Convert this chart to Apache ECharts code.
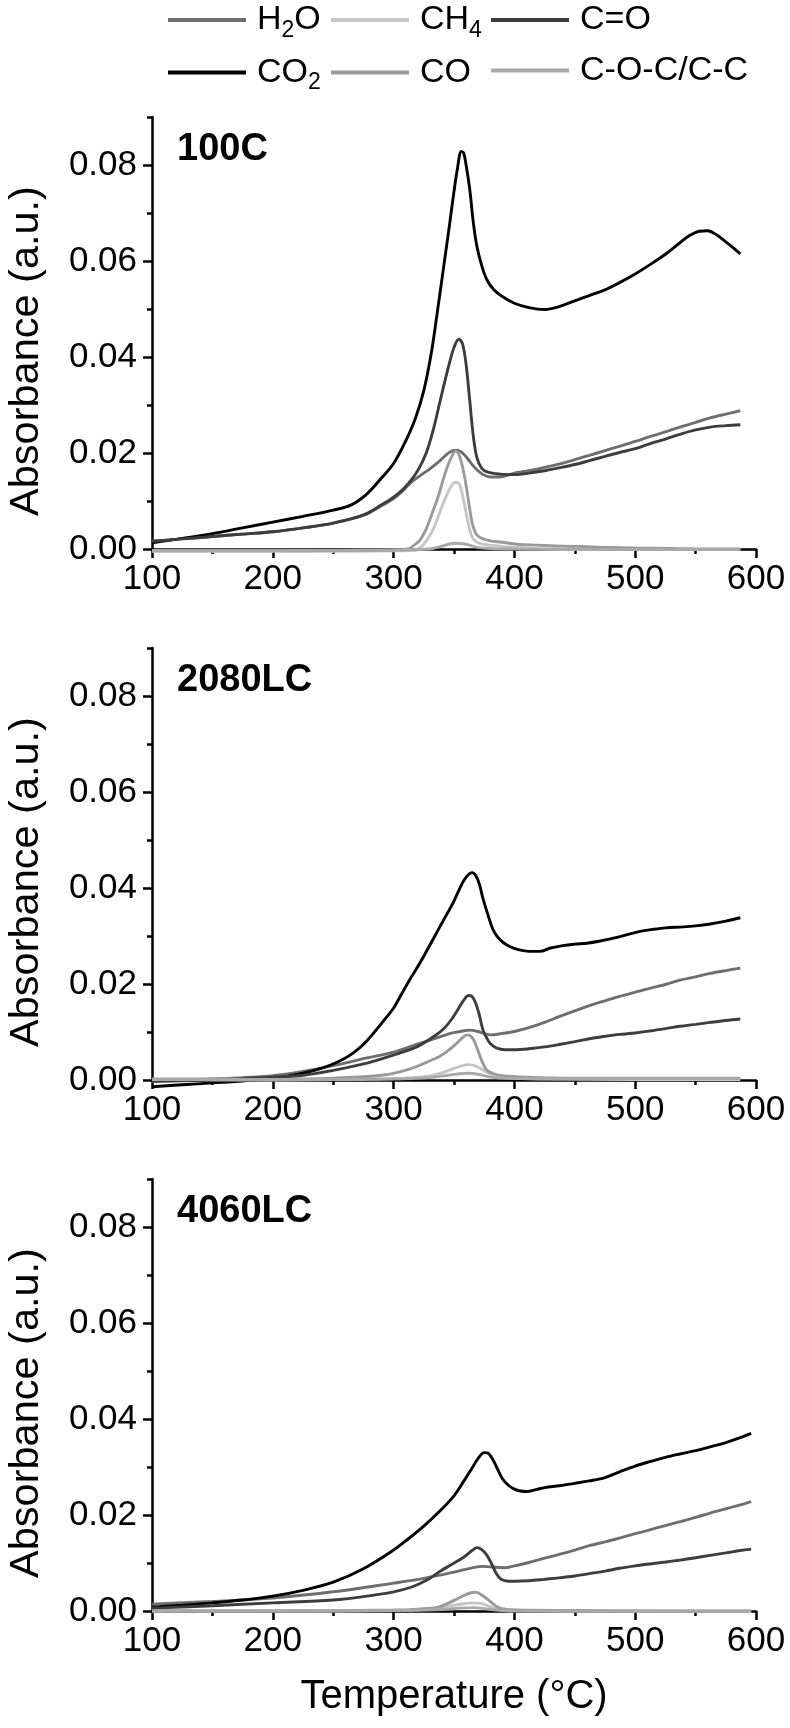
<!DOCTYPE html>
<html>
<head>
<meta charset="utf-8">
<script src="https://cdn.jsdelivr.net/npm/echarts@6/dist/echarts.min.js"></script>
<style>
html,body{margin:0;padding:0;background:#fff;}
#c{width:790px;height:1728px;}
</style>
</head>
<body>
<div id="c"></div>
<script>
const FONT = '"Liberation Sans", Arial, Helvetica, sans-serif';

// ---- categories / styling keys ----
const seriesNames = ['H2O', 'CO2', 'CH4', 'CO', 'C=O', 'C-O-C/C-C'];
const seriesColors = ['#6e6e6e', '#000000', '#c6c6c6', '#9a9a9a', '#3d3d3d', '#a9a9a9'];
const panelTitles = ['100C', '2080LC', '4060LC'];
const yMajorTicks = [0, 0.02, 0.04, 0.06, 0.08];

// ---- Panel 1: 100C  ([temperature °C, absorbance]) ----
const p1_H2O = [[100,0.0016],[125,0.0021],[150,0.0026],[175,0.0031],[200,0.0036],[225,0.0044],[250,0.0054],[275,0.0070],[290,0.0090],[300,0.0105],[308,0.0122],[315,0.0140],[322,0.0153],[330,0.0167],[338,0.0183],[344,0.0197],[349,0.0205],[353,0.0206],[357,0.0200],[361,0.0189],[365,0.0176],[369,0.0165],[374,0.0155],[380,0.0150],[388,0.0150],[400,0.0158],[412,0.0163],[425,0.0170],[437,0.0177],[450,0.0186],[462,0.0195],[475,0.0205],[487,0.0214],[500,0.0224],[512,0.0234],[525,0.0244],[537,0.0254],[550,0.0264],[562,0.0273],[575,0.0281],[587,0.0288]];
const p1_CO2 = [[100,0.0013],[125,0.0022],[150,0.0032],[175,0.0044],[200,0.0056],[225,0.0068],[250,0.0081],[265,0.0092],[278,0.0115],[290,0.0148],[300,0.0178],[310,0.0225],[318,0.0272],[325,0.0330],[331,0.0405],[336,0.0490],[341,0.0580],[346,0.0670],[350,0.0745],[353,0.0795],[356,0.0828],[358,0.0825],[360,0.0800],[363,0.0750],[366,0.0680],[369,0.0630],[373,0.0590],[377,0.0562],[383,0.0540],[390,0.0526],[400,0.0512],[412,0.0503],[425,0.0499],[437,0.0505],[450,0.0517],[462,0.0528],[475,0.0540],[487,0.0555],[500,0.0573],[512,0.0592],[525,0.0614],[537,0.0638],[545,0.0653],[553,0.0662],[560,0.0663],[567,0.0655],[575,0.0640],[581,0.0628],[587,0.0615]];
const p1_CH4 = [[100,-0.0005],[150,-0.0005],[200,-0.0005],[250,-0.0005],[300,-0.0004],[318,-0.0002],[323,0.0005],[328,0.0020],[333,0.0042],[337,0.0068],[341,0.0095],[345,0.0118],[348,0.0132],[351,0.0139],[353,0.0138],[355,0.0132],[357,0.0113],[359,0.0088],[361,0.0063],[363,0.0040],[365,0.0025],[368,0.0016],[372,0.0011],[380,0.0008],[392,0.0005],[410,0.0002],[430,0.0000],[480,-0.0001],[530,-0.0001],[587,-0.0001]];
const p1_CO = [[100,-0.0004],[150,-0.0004],[200,-0.0004],[250,-0.0003],[300,-0.0002],[312,0.0000],[318,0.0010],[322,0.0019],[327,0.0042],[332,0.0075],[337,0.0110],[341,0.0144],[345,0.0175],[348,0.0192],[351,0.0203],[353,0.0202],[356,0.0182],[358,0.0160],[360,0.0133],[362,0.0100],[364,0.0068],[366,0.0045],[369,0.0029],[374,0.0021],[380,0.0017],[390,0.0014],[402,0.0010],[420,0.0008],[440,0.0006],[460,0.0005],[480,0.0003],[500,0.0002],[530,0.0001],[560,0.0000],[587,0.0000]];
const p1_CdO = [[100,0.0016],[125,0.0021],[150,0.0026],[175,0.0031],[200,0.0036],[225,0.0044],[250,0.0054],[275,0.0071],[290,0.0092],[300,0.0108],[308,0.0125],[315,0.0145],[321,0.0168],[327,0.0200],[333,0.0250],[338,0.0303],[342,0.0345],[346,0.0385],[350,0.0420],[354,0.0437],[357,0.0428],[360,0.0385],[363,0.0310],[366,0.0235],[369,0.0190],[373,0.0168],[378,0.0160],[388,0.0156],[400,0.0155],[412,0.0158],[425,0.0163],[437,0.0169],[450,0.0176],[462,0.0184],[475,0.0193],[487,0.0201],[500,0.0209],[512,0.0219],[525,0.0229],[537,0.0239],[550,0.0248],[562,0.0254],[575,0.0257],[587,0.0259]];
const p1_COC = [[100,-0.0003],[200,-0.0003],[300,-0.0002],[330,0.0000],[340,0.0006],[347,0.0011],[352,0.0012],[358,0.0011],[364,0.0007],[370,0.0003],[380,0.0001],[400,0.0000],[450,-0.0001],[500,-0.0001],[587,-0.0001]];

// ---- Panel 2: 2080LC ----
const p2_H2O = [[100,-0.0003],[125,-0.0001],[150,0.0002],[175,0.0005],[200,0.0009],[225,0.0018],[250,0.0030],[278,0.0046],[300,0.0058],[319,0.0074],[335,0.0087],[347,0.0097],[355,0.0101],[363,0.0104],[370,0.0101],[376,0.0096],[381,0.0094],[390,0.0097],[400,0.0101],[412,0.0109],[425,0.0120],[437,0.0132],[450,0.0144],[462,0.0155],[475,0.0165],[487,0.0174],[500,0.0183],[512,0.0191],[525,0.0199],[537,0.0208],[550,0.0215],[562,0.0222],[575,0.0228],[587,0.0233]];
const p2_CO2 = [[100,-0.0014],[125,-0.0010],[150,-0.0006],[175,-0.0002],[200,0.0003],[225,0.0014],[240,0.0024],[255,0.0039],[267,0.0057],[278,0.0082],[290,0.0118],[300,0.0150],[305,0.0172],[312,0.0203],[318,0.0228],[325,0.0258],[332,0.0290],[338,0.0318],[344,0.0345],[349,0.0368],[354,0.0395],[358,0.0415],[362,0.0428],[365,0.0432],[368,0.0426],[371,0.0408],[374,0.0378],[378,0.0345],[382,0.0315],[386,0.0298],[391,0.0286],[397,0.0277],[404,0.0271],[412,0.0268],[421,0.0268],[430,0.0275],[440,0.0280],[450,0.0283],[460,0.0285],[470,0.0289],[483,0.0296],[495,0.0304],[505,0.0310],[515,0.0314],[525,0.0317],[540,0.0319],[550,0.0321],[562,0.0325],[575,0.0331],[587,0.0338]];
const p2_CH4 = [[100,0.0000],[200,0.0000],[300,0.0003],[325,0.0007],[340,0.0015],[350,0.0024],[357,0.0030],[362,0.0032],[367,0.0030],[372,0.0024],[377,0.0016],[385,0.0008],[395,0.0004],[420,0.0002],[500,0.0001],[587,0.0001]];
const p2_CO = [[100,0.0002],[150,0.0002],[200,0.0002],[250,0.0004],[290,0.0010],[305,0.0017],[319,0.0028],[330,0.0040],[338,0.0049],[346,0.0063],[352,0.0076],[357,0.0088],[361,0.0094],[364,0.0091],[367,0.0080],[370,0.0060],[373,0.0040],[377,0.0021],[383,0.0013],[390,0.0009],[410,0.0006],[450,0.0004],[500,0.0004],[550,0.0004],[587,0.0004]];
const p2_CdO = [[100,-0.0002],[150,0.0000],[200,0.0006],[225,0.0010],[250,0.0020],[278,0.0035],[305,0.0056],[320,0.0070],[333,0.0090],[342,0.0108],[349,0.0130],[354,0.0150],[358,0.0166],[362,0.0176],[365,0.0174],[368,0.0160],[371,0.0135],[374,0.0104],[377,0.0088],[380,0.0076],[385,0.0067],[392,0.0063],[400,0.0063],[412,0.0065],[425,0.0069],[437,0.0074],[450,0.0080],[462,0.0086],[475,0.0091],[487,0.0095],[500,0.0098],[512,0.0102],[525,0.0107],[537,0.0112],[550,0.0116],[562,0.0120],[575,0.0124],[587,0.0127]];
const p2_COC = [[100,0.0001],[200,0.0001],[300,0.0002],[330,0.0005],[345,0.0010],[355,0.0013],[362,0.0014],[370,0.0012],[378,0.0007],[388,0.0004],[420,0.0003],[500,0.0003],[587,0.0003]];

// ---- Panel 3: 4060LC ----
const p3_H2O = [[100,0.0014],[150,0.0020],[200,0.0027],[250,0.0040],[300,0.0058],[325,0.0068],[350,0.0081],[365,0.0090],[375,0.0093],[383,0.0091],[392,0.0090],[400,0.0094],[412,0.0101],[425,0.0110],[437,0.0118],[450,0.0127],[462,0.0136],[475,0.0144],[487,0.0152],[500,0.0161],[512,0.0169],[525,0.0178],[537,0.0186],[550,0.0195],[562,0.0204],[575,0.0213],[587,0.0221],[596,0.0228]];
const p3_CO2 = [[100,0.0008],[125,0.0012],[150,0.0017],[175,0.0023],[200,0.0031],[225,0.0043],[250,0.0060],[275,0.0088],[300,0.0127],[312,0.0150],[325,0.0177],[337,0.0205],[350,0.0240],[358,0.0270],[365,0.0298],[370,0.0318],[375,0.0330],[378,0.0329],[382,0.0316],[386,0.0296],[390,0.0276],[395,0.0262],[400,0.0254],[405,0.0250],[410,0.0249],[418,0.0253],[425,0.0257],[437,0.0261],[450,0.0266],[462,0.0271],[475,0.0278],[487,0.0290],[500,0.0302],[512,0.0311],[525,0.0320],[537,0.0327],[550,0.0334],[562,0.0342],[575,0.0351],[587,0.0361],[596,0.0370]];
const p3_CH4 = [[100,0.0000],[200,0.0000],[300,0.0001],[330,0.0004],[345,0.0010],[355,0.0014],[365,0.0017],[372,0.0016],[378,0.0011],[385,0.0005],[395,0.0002],[450,0.0000],[596,0.0000]];
const p3_CO = [[100,0.0000],[200,0.0000],[300,0.0002],[320,0.0004],[337,0.0008],[350,0.0022],[358,0.0032],[364,0.0038],[368,0.0039],[372,0.0035],[377,0.0026],[381,0.0018],[385,0.0010],[390,0.0005],[400,0.0002],[450,0.0001],[500,0.0000],[596,0.0000]];
const p3_CdO = [[100,0.0006],[150,0.0011],[200,0.0017],[250,0.0023],[275,0.0030],[300,0.0040],[315,0.0050],[328,0.0065],[338,0.0082],[348,0.0097],[358,0.0112],[365,0.0126],[369,0.0132],[373,0.0128],[377,0.0117],[381,0.0099],[385,0.0078],[389,0.0066],[395,0.0062],[400,0.0062],[412,0.0063],[425,0.0066],[437,0.0069],[450,0.0073],[462,0.0078],[475,0.0083],[487,0.0089],[500,0.0094],[512,0.0098],[525,0.0102],[537,0.0106],[550,0.0111],[562,0.0116],[575,0.0121],[587,0.0126],[596,0.0129]];
const p3_COC = [[100,0.0000],[300,0.0001],[340,0.0003],[355,0.0006],[366,0.0007],[375,0.0005],[385,0.0002],[400,0.0000],[596,-0.0001]];

// order matches seriesNames
const panelData = [
  [p1_H2O, p1_CO2, p1_CH4, p1_CO, p1_CdO, p1_COC],
  [p2_H2O, p2_CO2, p2_CH4, p2_CO, p2_CdO, p2_COC],
  [p3_H2O, p3_CO2, p3_CH4, p3_CO, p3_CdO, p3_COC]
];

// ---- layout ----
const gridTops = [117, 648, 1179];
const GRID_LEFT = 152, GRID_W = 604, GRID_H = 432;
const AX_W = 2.5;
const black = '#000';

const grids = [], xAxes = [], yAxes = [], series = [], titles = [];

gridTops.forEach((top, i) => {
  grids.push({left: GRID_LEFT, top: top, width: GRID_W, height: GRID_H, containLabel: false, outerBoundsMode: 'none'});
  xAxes.push({
    gridIndex: i, type: 'value', min: 100, max: 600, interval: 100,
    axisLine: {show: true, onZero: false, lineStyle: {color: black, width: AX_W}},
    axisTick: {show: true, inside: false, length: 9, lineStyle: {color: black, width: AX_W}},
    minorTick: {show: true, splitNumber: 2, length: 5, lineStyle: {color: black, width: AX_W}},
    splitLine: {show: false}, minorSplitLine: {show: false},
    axisLabel: {fontSize: 35, color: black, fontFamily: FONT, margin: 13},
    name: i === 2 ? 'Temperature (°C)' : '',
    nameLocation: 'middle', nameGap: 66,
    nameTextStyle: {fontSize: 40, color: black, fontFamily: FONT}
  });
  // main y axis: line, short (minor) ticks every 0.01, labels on even values
  yAxes.push({
    gridIndex: i, type: 'value', min: 0, max: 0.09, interval: 0.01, position: 'left',
    axisLine: {show: true, onZero: false, lineStyle: {color: black, width: AX_W}},
    axisTick: {show: true, inside: false, length: 5, lineStyle: {color: black, width: AX_W}},
    splitLine: {show: false},
    axisLabel: {
      fontSize: 35, color: black, fontFamily: FONT, margin: 15,
      formatter: v => (Math.round(v * 100) % 2 === 0 && v < 0.085) ? v.toFixed(2) : ''
    },
    name: 'Absorbance (a.u.)', nameLocation: 'middle', nameGap: 104, nameRotate: 90,
    nameTextStyle: {fontSize: 41.5, color: black, fontFamily: FONT, padding: [0, 36, 0, 0]}
  });
  // overlay y axis for long major ticks
  yAxes.push({
    gridIndex: i, type: 'value', min: 0, max: 0.09, interval: 0.02, position: 'left', offset: 0,
    axisLine: {show: false},
    axisTick: {show: true, inside: false, length: 9, customValues: yMajorTicks, lineStyle: {color: black, width: AX_W}},
    axisLabel: {show: false}, splitLine: {show: false}
  });
  panelData[i].forEach((d, k) => {
    series.push({
      type: 'line', name: seriesNames[k], xAxisIndex: i, yAxisIndex: 2 * i,
      data: d, symbol: 'none', smooth: 0.35, clip: false,
      lineStyle: {color: seriesColors[k], width: 2.9},
      itemStyle: {color: seriesColors[k]}
    });
  });
  titles.push({
    text: panelTitles[i], left: 177, top: top + 14, padding: 0,
    textStyle: {fontSize: 38, fontWeight: 'bold', color: black, fontFamily: FONT}
  });
});

const legendLabel = {'H2O': 'H{s|2}O', 'CO2': 'CO{s|2}', 'CH4': 'CH{s|4}'};
function makeLegend(left, names) {
  return {
    orient: 'vertical', left: left, top: 0, padding: 0, itemGap: 10.5,
    itemWidth: 78, itemHeight: 4, icon: 'rect', selectedMode: false,
    itemStyle: {borderWidth: 0},
    data: names,
    formatter: n => legendLabel[n] || n,
    textStyle: {
      fontSize: 34, color: black, fontFamily: FONT, lineHeight: 40, padding: [0, 0, 0, 6],
      rich: {s: {fontSize: 23, color: black, fontFamily: FONT, padding: [21, 0, 0, 0]}}
    }
  };
}

const chart = echarts.init(document.getElementById('c'), null, {renderer: 'canvas'});
chart.setOption({
  animation: false,
  backgroundColor: '#fff',
  title: titles,
  legend: [
    makeLegend(168, ['H2O', 'CO2']),
    makeLegend(331, ['CH4', 'CO']),
    makeLegend(491, ['C=O', 'C-O-C/C-C'])
  ],
  grid: grids,
  xAxis: xAxes,
  yAxis: yAxes,
  series: series
});
</script>
</body>
</html>
